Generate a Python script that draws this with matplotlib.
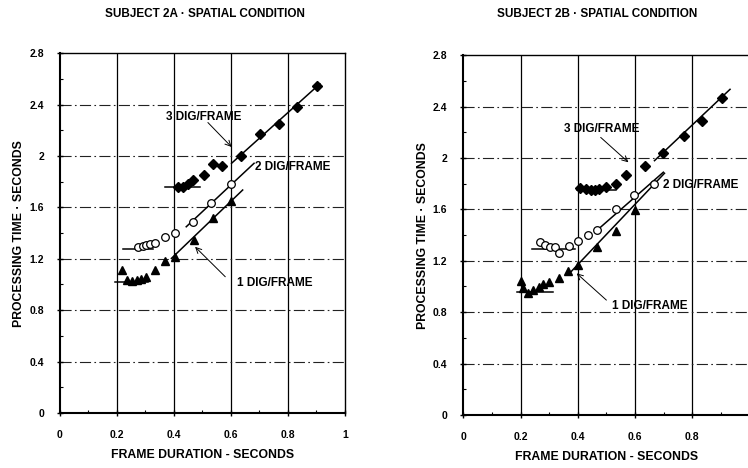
import numpy as np
import matplotlib.pyplot as plt

plt.rcParams['font.family'] = ['Liberation Sans', 'DejaVu Sans']
plt.rcParams['font.weight'] = 'bold'

# ---- subject 2A ----
a_x3 = [0.414, 0.431, 0.449, 0.466, 0.505, 0.536, 0.567, 0.635, 0.702, 0.769, 0.833, 0.902]
a_y3 = [1.756, 1.761, 1.782, 1.813, 1.852, 1.935, 1.922, 2.0, 2.171, 2.247, 2.379, 2.545]
a_x2 = [0.274, 0.290, 0.303, 0.317, 0.333, 0.367, 0.402, 0.466, 0.530, 0.600]
a_y2 = [1.288, 1.296, 1.304, 1.312, 1.319, 1.366, 1.403, 1.488, 1.636, 1.779]
a_x1 = [0.216, 0.234, 0.251, 0.269, 0.286, 0.303, 0.333, 0.367, 0.402, 0.470, 0.536, 0.600]
a_y1 = [1.112, 1.034, 1.026, 1.034, 1.039, 1.060, 1.112, 1.182, 1.216, 1.345, 1.514, 1.652]
# fitted lines (start/end) and flat baselines
a_fit3 = ([0.602, 0.912], [1.943, 2.561])
a_fit2 = ([0.443, 0.681], [1.449, 1.943])
a_fit1 = ([0.391, 0.641], [1.203, 1.735])
a_flat3 = ([0.367, 0.49], [1.761, 1.761])
a_flat2 = ([0.222, 0.327], [1.275, 1.275])
a_flat1 = ([0.193, 0.309], [1.021, 1.021])
a_lab3 = (0.505, 2.304)
a_lab2 = (0.815, 1.912)
a_lab1 = (0.755, 1.013)
a_arr3 = ((0.519, 2.26), (0.602, 2.07))
a_arr1 = ((0.58, 1.06), (0.474, 1.293))

# ---- subject 2B ----
b_x3 = [0.409, 0.427, 0.445, 0.460, 0.474, 0.500, 0.535, 0.568, 0.635, 0.699, 0.770, 0.835, 0.905]
b_y3 = [1.768, 1.760, 1.747, 1.753, 1.760, 1.773, 1.794, 1.869, 1.941, 2.039, 2.173, 2.289, 2.469]
b_x2 = [0.269, 0.284, 0.304, 0.319, 0.333, 0.368, 0.401, 0.435, 0.468, 0.533, 0.597, 0.668]
b_y2 = [1.343, 1.322, 1.309, 1.309, 1.263, 1.314, 1.353, 1.399, 1.438, 1.606, 1.714, 1.799]
b_x1 = [0.200, 0.210, 0.227, 0.245, 0.263, 0.280, 0.298, 0.333, 0.366, 0.400, 0.468, 0.535, 0.601]
b_y1 = [1.039, 0.987, 0.948, 0.974, 0.995, 1.021, 1.036, 1.064, 1.124, 1.168, 1.309, 1.433, 1.593]
b_fit3 = ([0.668, 0.932], [1.979, 2.534])
b_fit2 = ([0.465, 0.699], [1.433, 1.889])
b_fit1 = ([0.37, 0.703], [1.10, 1.881])
b_flat3 = ([0.398, 0.533], [1.747, 1.747])
b_flat2 = ([0.239, 0.39], [1.293, 1.293])
b_flat1 = ([0.187, 0.314], [0.96, 0.96])
b_lab3 = (0.483, 2.224)
b_lab2 = (0.83, 1.786)
b_lab1 = (0.652, 0.848)
b_arr3 = ((0.48, 2.16), (0.577, 1.966))
b_arr1 = ((0.50, 0.894), (0.396, 1.102))

xticks = [0, 0.2, 0.4, 0.6, 0.8, 1]
a_xticklabels = ['0', '0.2', '0.4', '0.6', '0.8', '1']
b_xticklabels = ['0', '0.2', '0.4', '0.6', '0.8', '']   # "1" falls off the page in 2B
yticks = [0, 0.4, 0.8, 1.2, 1.6, 2.0, 2.4, 2.8]
yticklabels = ['0', '0.4', '0.8', '1.2', '1.6', '2', '2.4', '2.8']


def draw_panel(ax, x1, y1, x2, y2, x3, y3, fits, flats, labs, arrows, xlabs):
    ax.set_xlim(0, 1)
    ax.set_ylim(0, 2.8)
    ax.set_xticks(xticks)
    ax.set_xticklabels(xlabs)
    ax.set_yticks(yticks)
    ax.set_yticklabels(yticklabels)
    ax.set_xticks(np.arange(0.1, 1.0, 0.2), minor=True)
    ax.set_yticks(np.arange(0.2, 2.8, 0.4), minor=True)
    ax.tick_params(which='major', direction='inout', length=5, width=1, labelsize=7.5, pad=10)
    ax.tick_params(which='minor', direction='in', length=2, width=0.8)
    ax.tick_params(axis='y', pad=9)
    for v in xticks[1:-1]:
        ax.axvline(v, color='black', lw=0.9, zorder=1)
    for v in yticks[1:-1]:
        ax.axhline(v, color='#222222', lw=0.8, ls=(0, (10, 3, 1.5, 3)), zorder=1)
    for s in ['left', 'bottom']:
        ax.spines[s].set_linewidth(1.5)
    for s in ['top', 'right']:
        ax.spines[s].set_linewidth(1.0)

    for fx, fy in fits:
        ax.plot(fx, fy, color='black', lw=1.1, zorder=2)
    for fx, fy in flats:
        ax.plot(fx, fy, color='black', lw=1.1, zorder=2)

    ax.plot(x3, y3, 'D', ms=5, color='black', zorder=3)
    ax.plot(x2, y2, 'o', ms=5.5, mfc='white', mec='black', mew=0.9, zorder=3)
    ax.plot(x1, y1, '^', ms=6, color='black', zorder=3)

    for (tx, ty), txt in zip(labs, ['3 DIG/FRAME', '2 DIG/FRAME', '1 DIG/FRAME']):
        ax.text(tx, ty, txt, fontsize=8.5, fontweight='bold', ha='center', va='center', zorder=4)
    for tail, tip in arrows:
        ax.annotate('', xy=tip, xytext=tail,
                    arrowprops=dict(arrowstyle='->', lw=0.7, color='black', shrinkA=0, shrinkB=0))

    ax.set_xlabel('FRAME DURATION - SECONDS', fontsize=8.8, fontweight='bold', labelpad=6)
    ax.set_ylabel('PROCESSING TIME · SECONDS', fontsize=8.8, fontweight='bold', labelpad=3)


fig = plt.figure(figsize=(7.48, 4.68), dpi=100)
ax1 = fig.add_axes([0.0802, 0.1175, 0.381, 0.769])
ax2 = fig.add_axes([0.6194, 0.1132, 0.3826, 0.769])

draw_panel(ax1, a_x1, a_y1, a_x2, a_y2, a_x3, a_y3,
           [a_fit3, a_fit2, a_fit1], [a_flat3, a_flat2, a_flat1],
           [a_lab3, a_lab2, a_lab1], [a_arr3, a_arr1], a_xticklabels)
draw_panel(ax2, b_x1, b_y1, b_x2, b_y2, b_x3, b_y3,
           [b_fit3, b_fit2, b_fit1], [b_flat3, b_flat2, b_flat1],
           [b_lab3, b_lab2, b_lab1], [b_arr3, b_arr1], b_xticklabels)

fig.text(205 / 748, 1 - 14 / 468, 'SUBJECT 2A · SPATIAL CONDITION', fontsize=8.5,
         fontweight='bold', ha='center', va='center')
fig.text(597 / 748, 1 - 14 / 468, 'SUBJECT 2B · SPATIAL CONDITION', fontsize=8.5,
         fontweight='bold', ha='center', va='center')

fig.savefig('out.png', dpi=100)
